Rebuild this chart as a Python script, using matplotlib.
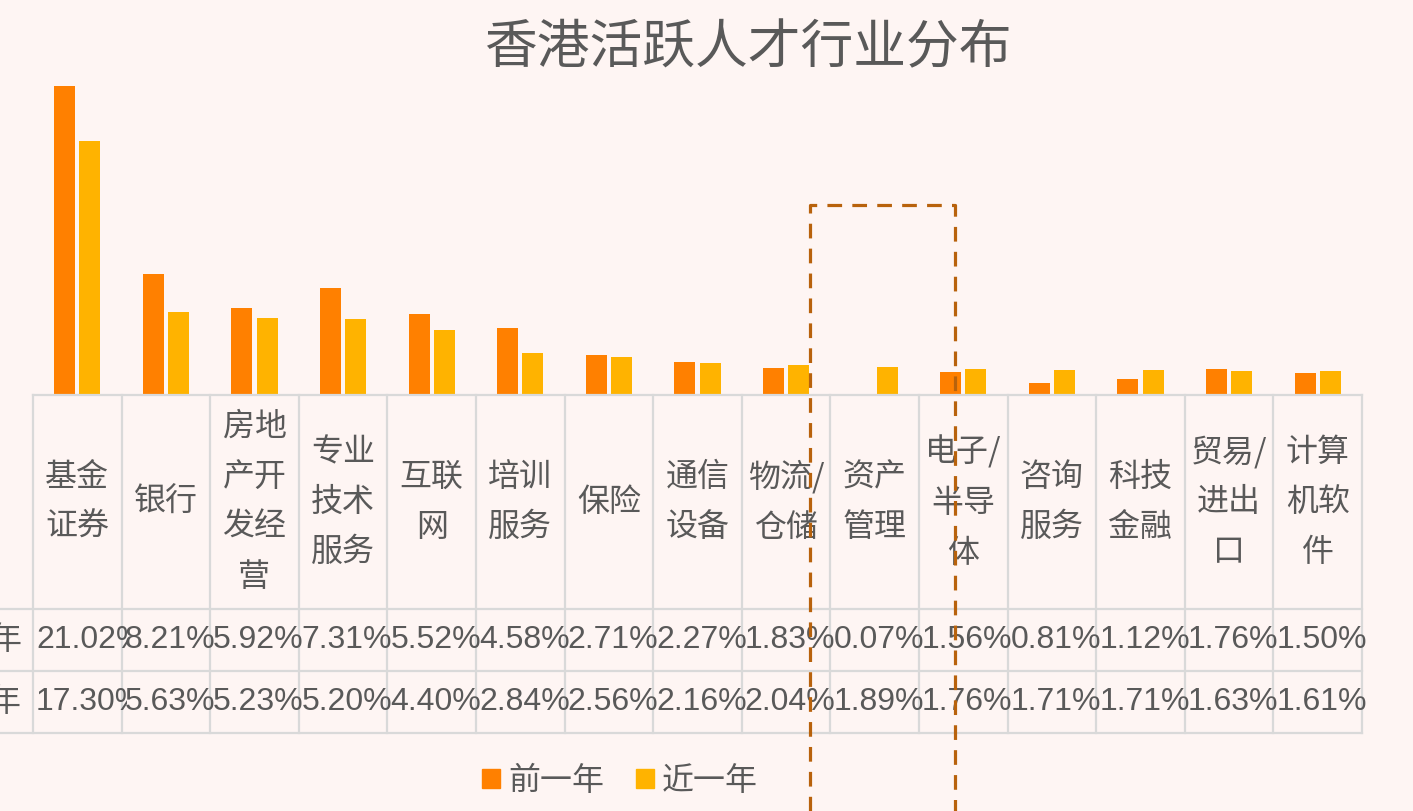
import numpy as np
import matplotlib
matplotlib.use('Agg')
import matplotlib.pyplot as plt
from matplotlib.patches import Patch
from matplotlib.lines import Line2D
from matplotlib.transforms import Bbox, TransformedBbox
from matplotlib import font_manager

plt.rcParams['font.family'] = ['Noto Sans CJK SC', 'DejaVu Sans']

categories = ['基金\n证券', '银行', '房地\n产开\n发经\n营', '专业\n技术\n服务', '互联\n网',
              '培训\n服务', '保险', '通信\n设备', '物流/\n仓储', '资产\n管理',
              '电子/\n半导\n体', '咨询\n服务', '科技\n金融', '贸易/\n进出\n口', '计算\n机软\n件']
prev_year = [21.02, 8.21, 5.92, 7.31, 5.52, 4.58, 2.71, 2.27, 1.83, 0.07, 1.56, 0.81, 1.12, 1.76, 1.50]
last_year = [17.30, 5.63, 5.23, 5.20, 4.40, 2.84, 2.56, 2.16, 2.04, 1.89, 1.76, 1.71, 1.71, 1.63, 1.61]
series_names = ['前一年', '近一年']

W, H = 1413, 811
bg = '#FEF5F3'
c_prev = '#FF8000'
c_last = '#FFB300'
txt = '#595959'
grid = '#D9D9D9'

# narrow font for the numbers if there is one
names = {f.name for f in font_manager.fontManager.ttflist}
if 'Liberation Sans Narrow' in names:
    num_font, num_size = 'Liberation Sans Narrow', 26
else:
    num_font, num_size = 'Liberation Sans', 23

fig = plt.figure(figsize=(W / 100, H / 100), dpi=100, facecolor=bg)

# bars
ax = fig.add_axes([33 / W, (H - 395) / H, 1329 / W, 335 / H])
ax.set_facecolor(bg)
x = np.arange(len(categories))
bw = 0.237
ax.bar(x - 0.143, prev_year, bw, color=c_prev)
ax.bar(x + 0.143, last_year, bw, color=c_last)
ax.set_xlim(-0.5, len(categories) - 0.5)
ax.set_ylim(0, 335 / 14.7)
ax.axis('off')

# data table
tb = fig.add_axes([33 / W, (H - 733) / H, 1329 / W, 338 / H])
tb.set_xlim(-0.5, len(categories) - 0.5)
tb.set_ylim(733, 395)
tb.axis('off')
left_out = -0.5 - 33 / 88.6
tb.plot([-0.5, 14.5], [395, 395], color=grid, lw=1.6, clip_on=False)
for yy in [609, 671, 733]:
    tb.plot([left_out, 14.5], [yy, yy], color=grid, lw=1.6, clip_on=False)
for k in range(len(categories) + 1):
    tb.plot([k - 0.5, k - 0.5], [395, 733], color=grid, lw=1.6, clip_on=False)

for i, lab in enumerate(categories):
    tb.text(i, 502, lab, ha='center', va='center', fontsize=23, color=txt,
            linespacing=1.72)

for row, (vals, yc) in enumerate([(prev_year, 640), (last_year, 702)]):
    tb.text(-0.5 - 11 / 88.6, yc, series_names[row], ha='right', va='center',
            fontsize=23, color=txt, clip_on=False)
    for i, v in enumerate(vals):
        t = tb.text(i - 0.5 + 3 / 88.6, yc, f'{v:.2f}%', ha='left', va='center',
                    fontsize=num_size, color=txt, family=num_font)
        cb = TransformedBbox(Bbox([[i - 0.5, 605], [i + 0.56, 675 if row == 0 else 737]]),
                             tb.transData)
        t.set_clip_on(True)
        t.set_clip_box(cb)

# title
fig.text(748 / W, 1 - 48 / H, '香港活跃人才行业分布', ha='center', va='center',
         fontsize=38, color=txt)

# legend
handles = [Patch(color=c_prev), Patch(color=c_last)]
fig.legend(handles, series_names, loc='center', bbox_to_anchor=(620 / W, 1 - 781 / H),
           ncol=2, frameon=False, fontsize=23, handlelength=0.55, handleheight=0.55,
           handletextpad=0.25, columnspacing=1.0, labelcolor=txt)

# dashed highlight box
box_c = '#B8620C'
ls = (0, (4.6, 3.2))
xs = [810 / W, 810 / W, 955 / W, 955 / W]
ys = [0, 1 - 205 / H, 1 - 205 / H, 0]
fig.add_artist(Line2D(xs, ys, transform=fig.transFigure, color=box_c, lw=2.3,
                      linestyle=ls))

fig.savefig('out.png', dpi=100, facecolor=bg)
